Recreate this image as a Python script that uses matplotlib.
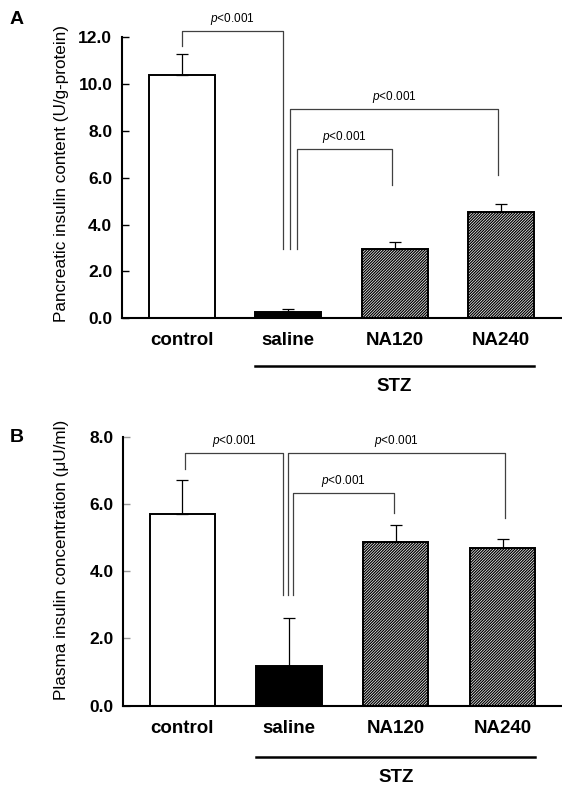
import matplotlib
matplotlib.use("Agg")
from matplotlib import pyplot as plt
from matplotlib import transforms

plt.rcParams["font.family"] = ["Liberation Sans", "DejaVu Sans"]
plt.rcParams["mathtext.fontset"] = "custom"
plt.rcParams["mathtext.it"] = "Liberation Sans:italic"
plt.rcParams["mathtext.rm"] = "Liberation Sans"
plt.rcParams["hatch.linewidth"] = 0.9

groups = ["control", "saline", "NA120", "NA240"]
pancreatic_mean = [10.4, 0.25, 2.95, 4.56]
pancreatic_err = [0.87, 0.13, 0.30, 0.32]
plasma_mean = [5.70, 1.18, 4.86, 4.69]
plasma_err = [1.02, 1.44, 0.50, 0.28]
pancreatic_ticks = [0, 2, 4, 6, 8, 10, 12]
plasma_ticks = [0, 2, 4, 6, 8]
sig_label = r"$p$<0.001"
stz_label = "STZ"

HATCH = "/" * 12


def draw_panel(ax, means, errs, ticks, brackets, xlim, width,
               stz_line_y, stz_text_y, tick_color):
    x = list(range(len(groups)))
    ax.bar(x, means, width=width, color=["white", "black", "white", "white"],
           edgecolor="black", linewidth=1.4,
           hatch=[None, None, HATCH, HATCH], zorder=2)
    ax.errorbar(x, means, yerr=[[0] * len(errs), errs], fmt="none",
                ecolor="black", elinewidth=0.9, capsize=4, capthick=0.9,
                zorder=3)

    ax.set_xlim(*xlim)
    ax.set_ylim(0, ticks[-1])
    ax.set_yticks(ticks, [f"{t:.1f}" for t in ticks])
    ax.set_xticks(x, groups)
    for lab in ax.get_xticklabels():
        lab.set_fontweight("bold")
        lab.set_fontsize(13.5)
    for lab in ax.get_yticklabels():
        lab.set_fontweight("bold")
        lab.set_fontsize(12.5)
    ax.tick_params(axis="x", length=0, pad=10)
    ax.tick_params(axis="y", direction="in", length=5, width=1,
                   color=tick_color, pad=7)
    for side in ["top", "right"]:
        ax.spines[side].set_visible(False)
    for side in ["left", "bottom"]:
        ax.spines[side].set_linewidth(1.5)

    # significance brackets
    for x1, x2, top, b1, b2 in brackets:
        ax.plot([x1, x1, x2, x2], [b1, top, top, b2], color="0.25",
                linewidth=0.9, clip_on=False, zorder=4)
        ax.annotate(sig_label, xy=((x1 + x2) / 2, top), xytext=(0, 2.5),
                    textcoords="offset points", ha="center", va="bottom",
                    fontsize=8.5, annotation_clip=False)

    # STZ grouping line
    trans = transforms.blended_transform_factory(ax.transData, ax.transAxes)
    ax.plot([1 - width / 2, 3 + width / 2], [stz_line_y, stz_line_y],
            color="black", linewidth=1.8, transform=trans, clip_on=False)
    ax.text(2, stz_text_y, stz_label, transform=trans, ha="center",
            va="center", fontsize=13.5, fontweight="bold")


def main():
    fig = plt.figure(figsize=(5.62, 7.89), dpi=100)
    ax_a = fig.add_axes([0.2171, 0.5966, 0.7829, 0.3561])
    ax_b = fig.add_axes([0.2194, 0.1056, 0.7806, 0.3409])

    draw_panel(
        ax_a, pancreatic_mean, pancreatic_err, pancreatic_ticks,
        [(0.0, 0.95, 12.28, 11.63, 2.96),
         (1.02, 2.97, 8.95, 2.96, 6.12),
         (1.08, 1.98, 7.24, 2.96, 5.69)],
        (-0.56, 3.572), 0.62, -0.1698, -0.2434, "black",
    )
    draw_panel(
        ax_b, plasma_mean, plasma_err, plasma_ticks,
        [(0.03, 0.94, 7.53, 7.05, 3.29),
         (0.99, 3.02, 7.53, 3.29, 5.58),
         (1.04, 1.98, 6.34, 3.29, 5.73)],
        (-0.552, 3.556), 0.61, -0.1896, -0.2688, "0.6",
    )

    fig.text(62 / 562, 1 - 174 / 789, "Pancreatic insulin content (U/g-protein)",
             rotation=90, ha="center", va="center", fontsize=12.3)
    fig.text(62 / 562, 1 - 560 / 789, "Plasma insulin concentration (\u03bcU/ml)",
             rotation=90, ha="center", va="center", fontsize=12.3)
    fig.text(17 / 562, 1 - 19 / 789, "A", ha="center", va="center",
             fontsize=14, fontweight="bold")
    fig.text(17 / 562, 1 - 438 / 789, "B", ha="center", va="center",
             fontsize=14, fontweight="bold")

    fig.savefig("out.png", dpi=100)


if __name__ == "__main__":
    main()
